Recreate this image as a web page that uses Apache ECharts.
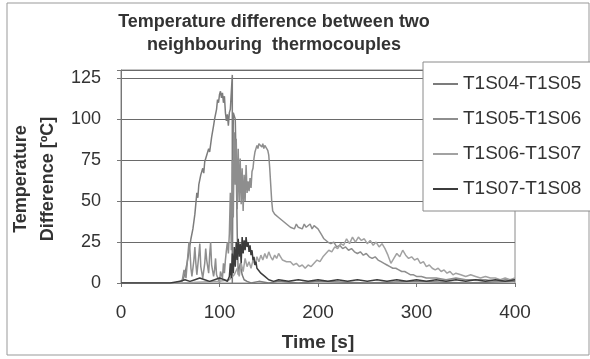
<!DOCTYPE html>
<html>
<head>
<meta charset="utf-8">
<script src="https://cdn.jsdelivr.net/npm/echarts@6/dist/echarts.min.js"></script>
<style>
html,body{margin:0;padding:0;background:#fff;}
#c{width:590px;height:359px;}
</style>
</head>
<body>
<div id="c"></div>
<script>
// ---- data (time [s], difference [ºC]) ----
var seriesNames = ['T1S04-T1S05', 'T1S05-T1S06', 'T1S06-T1S07', 'T1S07-T1S08'];
var xTicks = [0, 100, 200, 300, 400];
var yTicks = [0, 25, 50, 75, 100, 125];

var s1 = [[0,0],[20,0],[40,0],[55,0],[60,1],[63,2],[65,6],[67,12],[69,19],[71,27],[73,33],[75,42],[77,55],[78,52],[79,60],[81,66],[83,70],[84,67],[85,74],[87,78],[89,82],[90,80],[92,89],[94,96],[95,100],[97,106],[98,112],[99,110],[100,115],[101,117],[102,113],[103,116],[104,110],[105,114],[106,104],[107,99],[108,103],[109,96],[110,104],[111,106],[112,105],[113,127],[113,0],[113.5,0],[114,104],[115,102],[116,100],[117,70],[118,30],[119,5],[121,12],[123,5],[125,2],[128,1],[132,0],[140,1],[150,0],[160,1],[180,0],[200,1],[250,0],[300,1],[350,0],[400,1]];

var s2 = [[0,0],[55,0],[62,1],[64,8],[66,3],[68,18],[69,25],[70,20],[71,9],[72,4],[74,14],[75,22],[76,12],[77,5],[79,17],[80,24],[81,10],[83,3],[85,12],[86,21],[87,14],[89,6],[90,17],[91,25],[92,11],[94,4],[95,8],[96,15],[97,5],[99,2],[100,0],[101,7],[103,3],[104,12],[105,6],[106,14],[107,20],[108,25],[109,18],[110,30],[111,55],[112,20],[113,75],[114,40],[115,92],[116,60],[117,88],[118,45],[119,82],[120,50],[121,76],[122,48],[123,70],[124,44],[125,66],[126,50],[127,72],[128,55],[129,62],[130,56],[131,64],[132,58],[133,68],[134,70],[135,76],[136,80],[137,82],[138,84],[139,82],[140,85],[141,84],[142,86],[143,83],[144,85],[145,82],[146,84],[147,83],[148,85],[149,81],[150,78],[151,70],[152,60],[153,50],[154,44],[155,45],[156,42],[158,43],[160,40],[162,41],[164,38],[166,39],[168,36],[170,37],[172,34],[174,35],[176,33],[178,36],[180,34],[182,35],[184,33],[186,36],[188,34],[190,35],[192,36],[194,33],[196,35],[198,34],[200,33],[202,31],[204,29],[206,27],[208,26],[210,25],[213,24],[216,25],[219,22],[222,23],[225,21],[228,22],[231,20],[234,21],[237,19],[240,18],[243,19],[246,17],[249,18],[252,16],[255,15],[258,16],[261,14],[264,13],[267,12],[270,11],[273,10],[276,9],[279,9],[282,8],[285,7],[288,7],[291,6],[294,5],[297,5],[300,4],[305,4],[310,3],[320,3],[330,2],[340,3],[350,2],[360,2],[370,2],[380,1],[390,2],[400,2]];

var s3 = [[0,0],[60,0],[100,1],[110,2],[115,5],[118,9],[120,4],[122,12],[124,7],[126,15],[128,10],[130,13],[132,9],[134,14],[136,11],[138,16],[140,13],[142,17],[144,14],[146,18],[148,15],[150,19],[152,16],[154,14],[156,17],[158,15],[160,18],[162,16],[164,14],[166,15],[168,13],[170,12],[172,13],[175,11],[178,12],[181,10],[184,11],[187,9],[190,11],[193,10],[196,12],[199,14],[202,13],[205,16],[208,18],[211,20],[214,19],[217,22],[220,21],[223,24],[226,23],[229,27],[232,24],[235,28],[238,25],[241,28],[244,26],[247,27],[250,24],[253,26],[256,23],[259,25],[262,22],[265,24],[268,21],[271,17],[274,12],[277,15],[280,18],[283,16],[286,20],[289,17],[292,15],[295,16],[298,14],[301,15],[304,12],[307,13],[310,10],[313,11],[316,9],[319,8],[322,9],[325,7],[328,8],[331,6],[334,7],[337,5],[340,6],[345,5],[350,4],[355,5],[360,4],[365,3],[370,4],[375,3],[380,3],[385,2],[390,3],[395,2],[400,3]];

var s4 = [[0,0],[50,0],[60,1],[65,2],[70,1],[75,2],[80,3],[85,2],[90,1],[95,2],[100,3],[105,2],[108,1],[110,4],[111,12],[112,3],[113,18],[114,6],[115,22],[116,10],[117,25],[118,14],[119,27],[120,16],[121,24],[122,12],[123,28],[124,18],[125,26],[126,20],[127,28],[128,22],[129,25],[130,19],[131,23],[132,17],[133,20],[134,14],[135,16],[136,11],[137,13],[138,9],[140,8],[142,6],[144,5],[146,4],[148,3],[150,2],[155,1],[160,2],[170,1],[180,2],[190,1],[200,2],[210,1],[220,2],[230,1],[240,2],[250,1],[260,2],[270,1],[280,2],[290,1],[300,2],[310,1],[320,2],[330,1],[340,2],[350,1],[360,2],[370,1],[380,2],[390,1],[400,2]];

var seriesData = [s1, s2, s3, s4];
var colors = ['#7c7c7c', '#8e8e8e', '#a2a2a2', '#3c3c3c'];

var FONT = '"Liberation Sans", Arial, sans-serif';
var chart = echarts.init(document.getElementById('c'), null, {renderer: 'canvas'});

var option = {
  backgroundColor: '#ffffff',
  animation: false,
  grid: {left: 121, top: 70, width: 394, height: 213, show: true, borderColor: '#8a8a8a', borderWidth: 1, backgroundColor: 'transparent'},
  xAxis: {
    type: 'value', min: xTicks[0], max: xTicks[xTicks.length - 1], interval: 100,
    axisLine: {show: true, onZero: false, lineStyle: {color: '#777', width: 1}},
    axisTick: {show: true, length: 4, lineStyle: {color: '#777'}},
    splitLine: {show: false},
    axisLabel: {fontSize: 19, color: '#333', fontFamily: FONT, margin: 20,
      formatter: function (v) { return xTicks.indexOf(v) >= 0 ? String(v) : ''; }}
  },
  yAxis: {
    type: 'value', min: 0, max: 130, interval: 25,
    axisLine: {show: true, lineStyle: {color: '#777', width: 1}},
    axisTick: {show: true, length: 4, lineStyle: {color: '#777'}},
    splitLine: {show: true, lineStyle: {color: '#6a6a6a', width: 1}},
    axisLabel: {fontSize: 18, color: '#333', fontFamily: FONT, margin: 20,
      formatter: function (v) { return yTicks.indexOf(v) >= 0 ? String(v) : ''; }}
  },
  legend: {
    orient: 'vertical', left: 423, top: 62,
    padding: [12, 40, 12, 10], itemGap: 15, itemWidth: 25, itemHeight: 2,
    icon: 'rect',
    backgroundColor: '#ffffff', borderColor: '#8a8a8a', borderWidth: 1, borderRadius: 0,
    textStyle: {fontSize: 19, color: '#333', fontFamily: FONT, lineHeight: 20},
    data: seriesNames
  },
  series: seriesNames.map(function (n, i) {
    return {
      name: n, type: 'line', data: seriesData[i], showSymbol: false, symbol: 'none',
      clip: true, z: 2 + (i === 3 ? 1 : 0),
      lineStyle: {color: colors[i], width: 1.5},
      itemStyle: {color: colors[i]}
    };
  }),
  graphic: [
    {type: 'rect', shape: {x: 7, y: 3, width: 582, height: 352}, style: {fill: 'none', stroke: '#999', lineWidth: 1}, z: -10, silent: true},
    {type: 'text', x: 274, y: 22, style: {text: 'Temperature difference between two', font: 'bold 18px ' + FONT, fill: '#333', textAlign: 'center', textVerticalAlign: 'middle'}},
    {type: 'text', x: 274, y: 45, style: {text: 'neighbouring  thermocouples', font: 'bold 18px ' + FONT, fill: '#333', textAlign: 'center', textVerticalAlign: 'middle'}},
    {type: 'text', x: 21, y: 179, rotation: Math.PI / 2, style: {text: 'Temperature', font: 'bold 18px ' + FONT, fill: '#333', textAlign: 'center', textVerticalAlign: 'middle'}},
    {type: 'text', x: 48, y: 179, rotation: Math.PI / 2, style: {text: 'Difference [ºC]', font: 'bold 18px ' + FONT, fill: '#333', textAlign: 'center', textVerticalAlign: 'middle'}},
    {type: 'text', x: 318, y: 343, style: {text: 'Time [s]', font: 'bold 19px ' + FONT, fill: '#333', textAlign: 'center', textVerticalAlign: 'middle'}}
  ]
};
chart.setOption(option);
</script>
</body>
</html>
